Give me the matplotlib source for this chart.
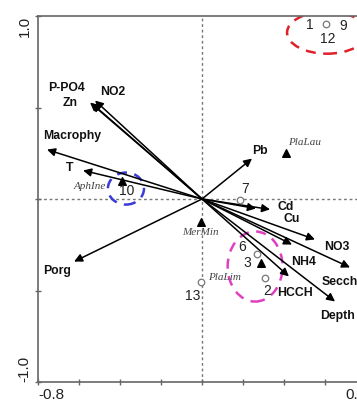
import matplotlib
matplotlib.use("Agg")
import matplotlib.pyplot as plt
from matplotlib.patches import Ellipse

# Environmental vectors (arrow tips) and label positions
env_names = ["P-PO4", "Zn", "NO2", "Macrophy", "T", "Porg", "Pb", "Cd", "Cu",
             "NO3", "NH4", "Secchi", "HCCH", "Depth"]
env_x = [-0.546, -0.537, -0.522, -0.756, -0.580, -0.624, 0.244, 0.332, 0.263,
         0.551, 0.439, 0.722, 0.424, 0.649]
env_y = [0.527, 0.522, 0.538, 0.270, 0.156, -0.342, 0.221, -0.057, -0.052,
         -0.221, -0.249, -0.374, -0.423, -0.560]
env_lx = [-0.659, -0.644, -0.434, -0.634, -0.644, -0.707, 0.283, 0.410, 0.439,
          0.659, 0.493, 0.585, 0.454, 0.576]
env_ly = [0.609, 0.522, 0.582, 0.342, 0.167, -0.391, 0.260, -0.041, -0.112,
          -0.265, -0.342, -0.456, -0.511, -0.642]
env_ha = ["center", "center", "center", "center", "center", "center", "center",
          "center", "center", "center", "center", "left", "center", "left"]

# Species (filled triangles)
sp_names = ["AphIne", "PlaLau", "MerMin", "PlaLim"]
sp_x = [-0.390, 0.410, -0.005, 0.288]
sp_y = [0.101, 0.254, -0.123, -0.347]
sp_lx = [-0.546, 0.502, -0.010, 0.112]
sp_ly = [0.068, 0.309, -0.183, -0.429]

# Sites (open circles)
site_x = [0.605, 0.185, 0.268, 0.307, -0.005]
site_y = [0.959, -0.003, -0.298, -0.434, -0.456]

# Site number labels
site_lab = ["1", "9", "12", "7", "6", "3", "2", "13", "10"]
site_lx = [0.527, 0.688, 0.615, 0.210, 0.195, 0.220, 0.317, -0.044, -0.366]
site_ly = [0.953, 0.948, 0.877, 0.052, -0.260, -0.347, -0.505, -0.530, 0.041]

# Group ellipses: center x, center y, width, height, colour
ell_cx = [0.610, -0.371, 0.259]
ell_cy = [0.909, 0.057, -0.369]
ell_w = [0.39, 0.176, 0.268]
ell_h = [0.23, 0.175, 0.383]
ell_col = ["#e0202a", "#3a3ad8", "#e040c0"]

fig = plt.figure(figsize=(3.57, 4.01), dpi=100)
ax = fig.add_axes([38 / 357, 19 / 401, 328 / 357, 366 / 401])
ax.set_xlim(-0.8, 0.8)
ax.set_ylim(-1.0, 1.0)

ax.axhline(0, color="#777777", lw=1, ls=(0, (2, 2)), zorder=1)
ax.axvline(0, color="#777777", lw=1, ls=(0, (2, 2)), zorder=1)

for cx, cy, w, h, c in zip(ell_cx, ell_cy, ell_w, ell_h, ell_col):
    ax.add_patch(Ellipse((cx, cy), w, h, fill=False, ec=c, lw=1.8,
                         ls=(0, (4, 3)), zorder=2))

for x, y in zip(env_x, env_y):
    ax.annotate("", xy=(x, y), xytext=(0, 0),
                arrowprops=dict(arrowstyle="-|>", color="black", lw=1.1,
                                mutation_scale=12, shrinkA=0, shrinkB=0),
                zorder=3)
for n, x, y, ha in zip(env_names, env_lx, env_ly, env_ha):
    ax.text(x, y, n, ha=ha, va="center", fontsize=8.8, fontweight="bold",
            family="Liberation Sans", color="#111111", zorder=4)

ax.scatter(sp_x, sp_y, marker="^", s=30, color="black", zorder=5)
for n, x, y in zip(sp_names, sp_lx, sp_ly):
    ax.text(x, y, n, ha="center", va="center", fontsize=8, style="italic",
            family="Liberation Serif", color="#444444", zorder=5)

ax.scatter(site_x, site_y, marker="o", s=22, facecolor="white",
           edgecolor="#777777", lw=0.9, zorder=5)
for n, x, y in zip(site_lab, site_lx, site_ly):
    ax.text(x, y, n, ha="center", va="center", fontsize=10,
            family="Liberation Sans", color="#222222", zorder=6)

for s in ["top", "left", "bottom"]:
    ax.spines[s].set_color("#666666")
    ax.spines[s].set_linewidth(1.2)
ax.spines["right"].set_visible(False)

ax.set_xticks([-0.8, -0.6, -0.4, -0.2, 0, 0.2, 0.4, 0.6, 0.8])
ax.set_xticklabels(["-0.8", "", "", "", "", "", "", "", "0.8"])
ax.set_yticks([-1.0, -0.5, 0, 0.5, 1.0])
ax.set_yticklabels(["-1.0", "", "", "", "1.0"], rotation=90)
ax.tick_params(direction="inout", length=5, width=1, color="#666666",
               labelsize=11, labelcolor="#222222", pad=2)
ylabs = ax.get_yticklabels()
ylabs[0].set_va("bottom")
ylabs[-1].set_va("top")
xlabs = ax.get_xticklabels()
xlabs[0].set_ha("left")
xlabs[-1].set_ha("right")
for t in ax.get_xticklabels() + ax.get_yticklabels():
    t.set_family("Liberation Sans")

fig.savefig("out.png", dpi=100)
